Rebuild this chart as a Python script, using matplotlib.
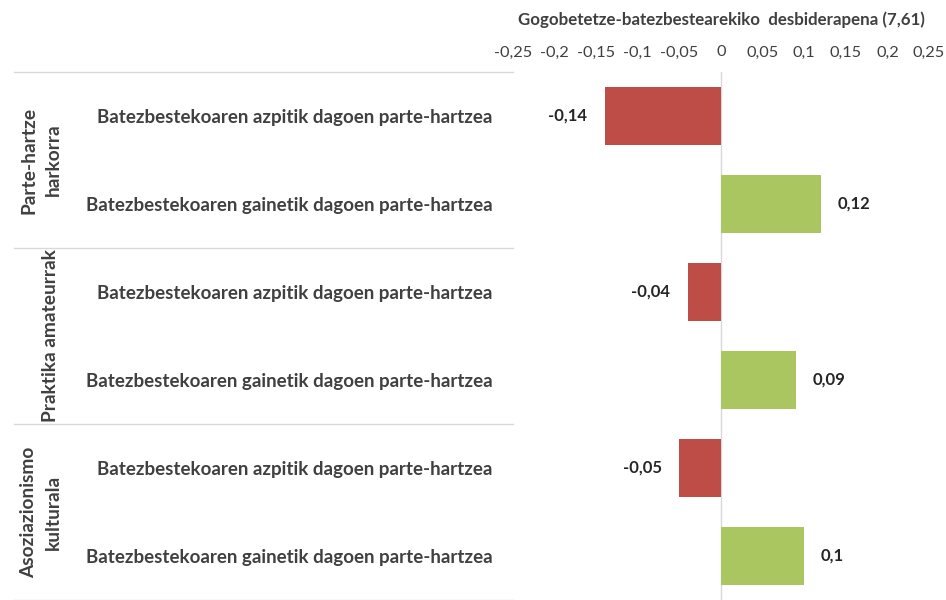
import matplotlib
matplotlib.use("Agg")
import matplotlib.pyplot as plt
from matplotlib.lines import Line2D

groups = ["Parte-hartze\nharkorra", "Praktika amateurrak", "Asoziazionismo\nkulturala"]
categories = ["Batezbestekoaren azpitik dagoen parte-hartzea",
              "Batezbestekoaren gainetik dagoen parte-hartzea"] * 3
values = [-0.14, 0.12, -0.04, 0.09, -0.05, 0.1]
value_labels = ["-0,14", "0,12", "-0,04", "0,09", "-0,05", "0,1"]
ticks = [-0.25, -0.2, -0.15, -0.1, -0.05, 0, 0.05, 0.1, 0.15, 0.2, 0.25]
tick_labels = ["-0,25", "-0,2", "-0,15", "-0,1", "-0,05", "0", "0,05", "0,1", "0,15", "0,2", "0,25"]
title = "Gogobetetze-batezbestearekiko  desbiderapena (7,61)"

RED = "#BE4D48"
GREEN = "#A9C661"
TXT = "#404040"
FONT = "Lato"

W, H = 946, 600
fig = plt.figure(figsize=(W / 100, H / 100), dpi=100)
ax_l, ax_r, ax_t, ax_b = 513, 929, 72, 600
ax = fig.add_axes([ax_l / W, 1 - ax_b / H, (ax_r - ax_l) / W, (ax_b - ax_t) / H])

n = len(values)
ypos = list(range(n))
colors = [RED if v < 0 else GREEN for v in values]
ax.barh(ypos, values, height=0.66, color=colors, zorder=3)
ax.set_ylim(n - 0.5, -0.5)
ax.set_xlim(-0.25, 0.25)
ax.axvline(0, color="#D9D9D9", lw=1, zorder=2)

for y, v, lab in zip(ypos, values, value_labels):
    if v < 0:
        ax.annotate(lab, (v, y), xytext=(-12.5, 0), textcoords="offset points",
                    ha="right", va="center", fontsize=12, fontweight="bold",
                    color="#262626", family=FONT)
    else:
        ax.annotate(lab, (v, y), xytext=(12, 0), textcoords="offset points",
                    ha="left", va="center", fontsize=12, fontweight="bold",
                    color="#262626", family=FONT)

ax.xaxis.tick_top()
ax.set_xticks(ticks)
ax.set_xticklabels(tick_labels, fontsize=11.8, color=TXT, family=FONT)
ax.tick_params(axis="x", length=0, pad=9)
ax.set_yticks(ypos)
ax.set_yticklabels(categories, fontsize=13.5, fontweight="bold", color=TXT, family=FONT)
ax.tick_params(axis="y", length=0, pad=14.5)
for s in ax.spines.values():
    s.set_visible(False)

fig.text(721 / W, 1 - 20 / H, title, ha="center", va="center", fontsize=12.2,
         fontweight="bold", color=TXT, family=FONT)

# group separators
for yy in [72, 248, 424, 600]:
    fig.add_artist(Line2D([14 / W, ax_l / W], [1 - yy / H, 1 - yy / H],
                          color="#D9D9D9", lw=1))
# group labels (each line placed separately)
for i, g in enumerate(groups):
    yc = ax_t + (i * 2 + 1) * (ax_b - ax_t) / 6
    lines = g.split("\n")
    xs = [50] if len(lines) == 1 else [29, 53]
    for xx, line in zip(xs, lines):
        fig.text(xx / W, 1 - yc / H, line, rotation=90, ha="center", va="center",
                 fontsize=13.8, fontweight="bold", color=TXT, family=FONT)

fig.savefig("out.png", dpi=100, facecolor="white")
